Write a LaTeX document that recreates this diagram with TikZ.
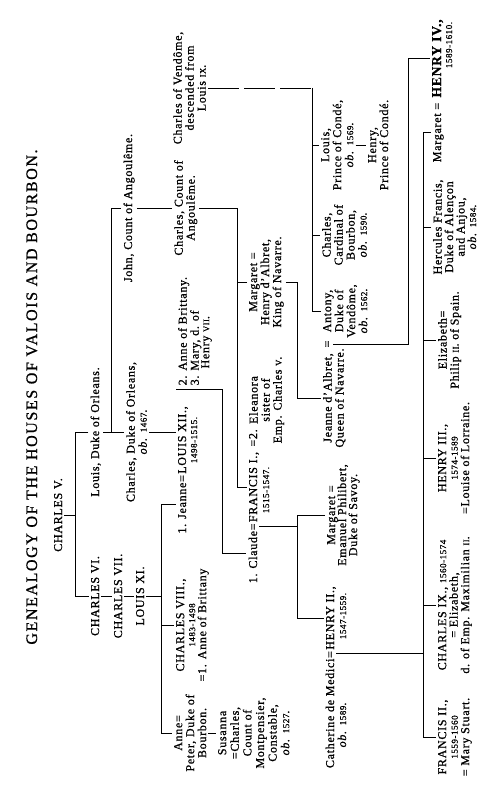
\documentclass[tikz,border=0pt]{standalone}
\usepackage{fontspec}
\setmainfont{Liberation Serif}[LetterSpace=6,FakeBold=0.9]
\newfontfamily\titlefont{Liberation Serif}[LetterSpace=10,FakeBold=0.9]
\newcommand\gsize{\fontsize{12}{12}\selectfont}
\newcommand\ob{\textit{ob.}}
\newcommand\rnum[1]{{\fontsize{8.5}{10}\selectfont #1}}
\newcommand\yrs[1]{{\fontsize{9}{10}\selectfont #1}}

\begin{document}
\begin{tikzpicture}[x=1pt,y=1pt,
    person/.style={anchor=base, align=center, inner xsep=0.5pt, inner ysep=2pt, font=\gsize},
    block/.style={person, anchor=north},
    link/.style={line width=0.9pt},
    descent/.style={link, dash pattern=on 31pt off 5pt}]
    \useasboundingbox (0,0) rectangle (496,800);
    \begin{scope}[rotate=90, transform shape]
        % Title
        \node[person, font=\titlefont\fontsize{16}{18}\selectfont] (title) at (403,-37) {GENEALOGY OF THE HOUSES OF VALOIS AND BOURBON.};

        % Valois line
        \node[person] (cv) at (285,-62) {CHARLES V.};
        \node[person] (ldo) at (368,-99) {Louis, Duke of Orleans.};
        \node[person] (c6) at (204,-99) {CHARLES VI.};
        \node[person] (c7) at (204,-122) {CHARLES VII.};
        \node[person] (l11) at (204,-144) {LOUIS XI.};
        \node[block] (cdo) at (368,-124) {Charles, Duke of Orleans,\\\ob{} \yrs{1467}.};
        \node[person] (jca) at (592,-132) {John, Count of Angoulême.};
        \node[block] (cca) at (592,-172) {Charles, Count of\\Angoulême.};
        \node[block] (cvd) at (712,-171) {Charles of Vendôme,\\descended from\\Louis \rnum{IX}.};

        % Louis XI's children
        \node[person] (l12) at (360,-186) {LOUIS XII.,};
        \node[person] (l12d) at (360,-197) {\yrs{1498-1515.}};
        \node[person, anchor=base east] (jeanne) at (l12.base west) {1. Jeanne=};
        \node[block, anchor=north west, align=left, font=\fontsize{12}{10.5}\selectfont] (abm) at (414,-176) {2. Anne of Brittany.\\3. Mary, d. of\\\hspace{1.4em}Henry \rnum{VII}.};
        \node[block, font=\fontsize{12}{11}\selectfont] (c8) at (175,-174) {CHARLES VIII.,\\\yrs{1483-1498}\\=1. Anne of Brittany};
        \node[block] (anne) at (67,-172) {Anne=\\Peter, Duke of\\Bourbon.};
        \node[block, font=\fontsize{12}{12.6}\selectfont] (sus) at (67,-216) {Susanna\\=Charles,\\Count of\\Montpensier,\\Constable,\\\ob{} \yrs{1527}.};

        % Francis I and Margaret
        \node[person] (fr1) at (313,-257) {FRANCIS I.,};
        \node[person, anchor=base east] (cla) at (fr1.base west) {1. Claude=};
        \node[person] (fr1d) at (310,-269) {\yrs{1515-1547.}};
        \node[person, anchor=base west] (eq2) at ([xshift=4]fr1.base east) {=2.};
        \node[block] (ele) at (400,-247) {Eleanora\\sister of\\Emp. Charles \rnum{V}.};
        \node[block] (mhd) at (518,-247) {Margaret =\\Henry d’Albret,\\King of Navarre.};

        % next generation
        \node[block, font=\fontsize{12}{11}\selectfont] (mes) at (285,-325) {Margaret =\\Emanuel Philibert,\\Duke of Savoy.};
        \node[block] (jda) at (402,-321) {Jeanne d’Albret,\\Queen of Navarre.};
        \node[person] (eqa) at (456,-331) {=};
        \node[block] (ant) at (489,-321) {Antony,\\Duke of\\Vendôme,\\\ob{} \yrs{1562}.};
        \node[block] (ccb) at (565,-320) {Charles,\\Cardinal of\\Bourbon,\\\ob{} \yrs{1590}.};
        \node[block] (lpc) at (655,-319) {Louis,\\Prince of Condé,\\\ob{} \yrs{1569}.};
        \node[block] (hpc) at (655,-366) {Henry,\\Prince of Condé.};
        \node[person] (h2) at (182,-334) {HENRY II.,};
        \node[person, anchor=base east] (cat) at (h2.base west) {Catherine de Medici=};
        \node[person] (h2d) at (184,-346) {\yrs{1547-1559.}};
        \node[person] (catd) at (75,-346) {\ob{} \yrs{1589}.};

        % last row
        \node[person, font=\fontsize{13.5}{14}\selectfont] (h4) at (742,-441) {\textbf{HENRY IV.,}};
        \node[person] (h4d) at (755,-452) {\yrs{1589-1610.}};
        \node[person, anchor=base east] (mar) at ([xshift=-4]h4.base west) {Margaret =};
        \node[block, font=\fontsize{12}{11.5}\selectfont] (hf) at (573,-431) {Hercules Francis,\\Duke of Alençon\\and Anjou,\\\ob{} \yrs{1584}.};
        \node[block] (eliz) at (460,-436) {Elizabeth=\\Philip \rnum{II}. of Spain.};
        \node[block, font=\fontsize{12}{11.5}\selectfont] (h3) at (342,-436) {HENRY III.,\\\yrs{1574-1589}\\=Louise of Lorraine.};
        \node[block, font=\fontsize{12}{11.5}\selectfont] (c9) at (195,-436) {CHARLES IX., \yrs{1560-1574}\\= Elizabeth,\\d. of Emp. Maximilian \rnum{II}.};
        \node[block, font=\fontsize{12}{11.5}\selectfont] (f2) at (63,-436) {FRANCIS II.,\\\yrs{1559-1560}\\= Mary Stuart.};

        % Bars
        \coordinate (barA) at (0,-75);
        \coordinate (barB) at (0,-111);
        \coordinate (barC) at (0,-161);
        \coordinate (barK) at (0,-222);
        \coordinate (barE) at (0,-237);
        \coordinate (barD) at (0,-297);
        \coordinate (barH) at (0,-312);
        \coordinate (barG) at (0,-408);
        \coordinate (barI) at (0,-423);

        % Connectors
        \draw[link] (cv.south) -- (cv.south |- barA);
        \draw[link] (ldo.north) -- (ldo.north |- barA) -- (c6.north |- barA) -- (c6.north);
        \draw[link] (c6.south) -- (c7.north);
        \draw[link] (c7.south) -- (l11.north);

        \draw[link] (ldo.south) -- (cdo.north);
        \draw[link] (ldo.south |- barB) -- (jca.south |- barB) -- (jca.north);
        \draw[link] (jca.south) -- (cca.north);
        \draw[link] (cdo.south) -- (cdo.south |- l12.north);

        \draw[link] (l11.south) -- (l11.south |- barC);
        \draw[link] (jeanne.north) -- (jeanne.north |- barC) -- (anne.north |- barC) -- (anne.north);
        \draw[link] (c8.north) -- (c8.north |- barC);
        \draw[link] (anne.south) -- (sus.north);

        \draw[link] ([xshift=-3]abm.north west) -- ([xshift=-3]abm.north west |- barK) -| (cla.north);

        \draw[link] (cca.south) -- (cca.south |- barE) -- (fr1.north |- barE) -- (fr1.north);
        \draw[link] (mhd.north) -- (mhd.north |- barE);

        \draw[link] ([xshift=-4]cla.south east) -- ([xshift=-4]cla.south east |- barD);
        \draw[link] (mes.north) -- (mes.north |- barD) -- (h2.north |- barD) -- (h2.north);
        \draw[link] (mhd.south) -- (mhd.south |- barD) -| (jda.north);

        \draw[descent] (cvd.south) -- (cvd.south |- barH);
        \draw[link] (cvd.south |- barH) -- (ant.north |- barH) -- (ant.north);
        \draw[link] (lpc.north) -- (lpc.north |- barH);
        \draw[link] (ccb.north) -- (ccb.north |- barH);
        \draw[link] (lpc.south) -- (hpc.north);

        \draw[link] (eqa.south) -- (eqa.south |- barG) -| (h4.north);

        \draw[link] ([xshift=-3]cat.south east) -- ([xshift=-3]cat.south east |- barI);
        \draw[link] (mar.north) -- (mar.north |- barI) -- (f2.north |- barI) -- (f2.north);
        \foreach \kid in {hf,eliz,h3,c9}
            \draw[link] (\kid.north) -- (\kid.north |- barI);
    \end{scope}
\end{tikzpicture}
\end{document}
